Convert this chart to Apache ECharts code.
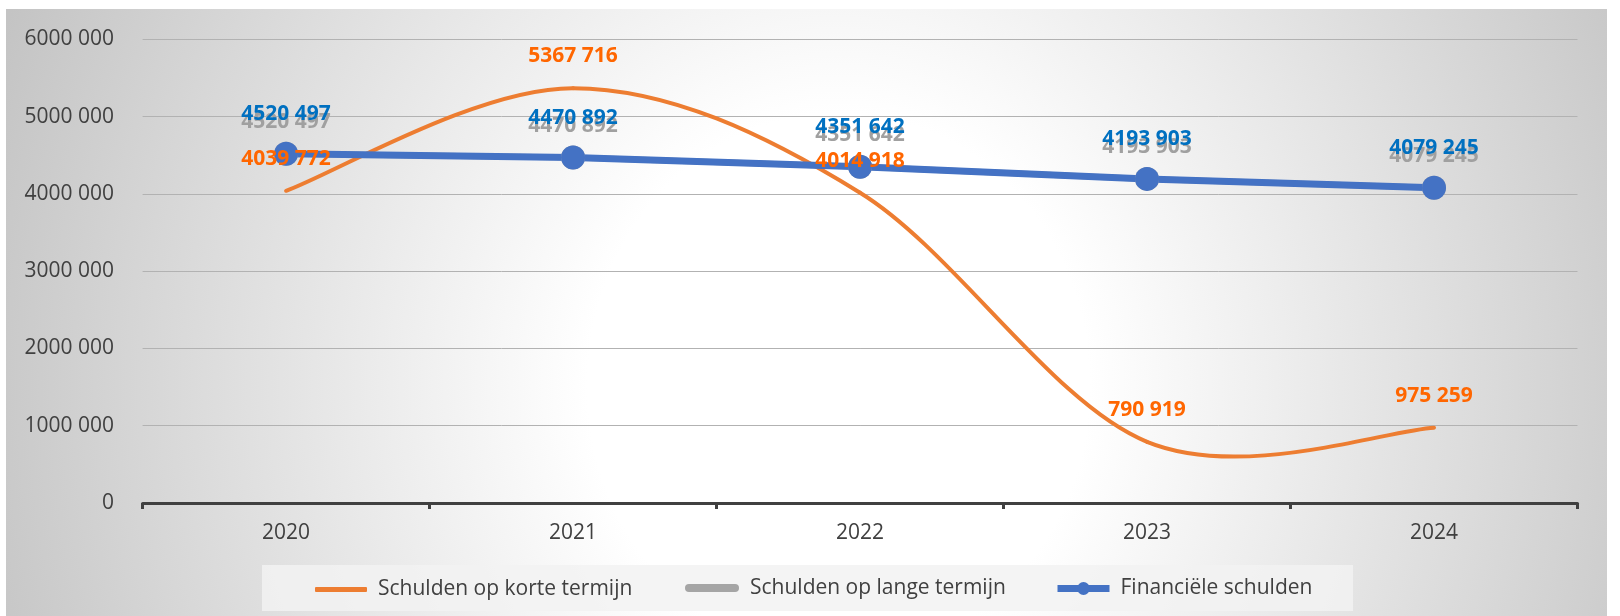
<!DOCTYPE html>
<html>
<head>
<meta charset="utf-8">
<script src="https://cdn.jsdelivr.net/npm/echarts@6/dist/echarts.min.js"></script>
<style>
  html, body { margin:0; padding:0; background:#ffffff; }
  #bg { position:absolute; left:6px; top:9px; width:1601px; height:607px;
        background: radial-gradient(ellipse 56% 160% at 52% 62%, #ffffff 0%, #ffffff 28%, #c4c4c4 100%); }
  #chart { position:absolute; left:0; top:0; width:1620px; height:616px; }
</style>
</head>
<body>
<div id="bg"></div>
<div id="chart"></div>
<script>
const years = ['2020', '2021', '2022', '2023', '2024'];
const kortTermijn = [4039772, 5367716, 4014918, 790919, 975259];
const langTermijn = [4520497, 4470892, 4351642, 4193903, 4079245];
const financieel = [4520497, 4470892, 4351642, 4193903, 4079245];
const seriesNames = ['Schulden op korte termijn', 'Schulden op lange termijn', 'Financiële schulden'];
const yTicks = { min: 0, max: 6000000, interval: 1000000 };

function fmt(v) {
  v = Math.round(v);
  if (v < 1000) return String(v);
  const hi = Math.floor(v / 1000);
  const lo = String(v % 1000).padStart(3, '0');
  return hi + ' ' + lo;
}

const FONT = '"Open Sans", "DejaVu Sans", sans-serif';
const chart = echarts.init(document.getElementById('chart'), null, { renderer: 'canvas' });

const legendText = { fontFamily: FONT, fontSize: 21, color: '#404040', padding: [0, 0, 0, 6] };

// Excel-style smoothed curve (Catmull-Rom Bezier), computed from axis coordinates
function renderSmooth(params, api) {
  const i = params.dataIndex;
  const n = kortTermijn.length;
  const pts = kortTermijn.map((v, j) => api.coord([j, v]));
  if (i >= n - 1) return { type: 'group', children: [] };
  const p0 = pts[Math.max(i - 1, 0)], p1 = pts[i], p2 = pts[i + 1], p3 = pts[Math.min(i + 2, n - 1)];
  const c1 = [p1[0] + (p2[0] - p0[0]) / 6, p1[1] + (p2[1] - p0[1]) / 6];
  const c2 = [p2[0] - (p3[0] - p1[0]) / 6, p2[1] - (p3[1] - p1[1]) / 6];
  return {
    type: 'bezierCurve',
    shape: { x1: p1[0], y1: p1[1], x2: p2[0], y2: p2[1], cpx1: c1[0], cpy1: c1[1], cpx2: c2[0], cpy2: c2[1] },
    style: { stroke: '#ED7D31', lineWidth: 4, fill: null, lineCap: 'round' }
  };
}
function renderKortLabel(params, api) {
  const p = api.coord([api.value(0), api.value(1)]);
  return {
    type: 'text', x: p[0], y: p[1] - 32,
    style: { text: fmt(api.value(1)), align: 'center', verticalAlign: 'middle',
             fontFamily: FONT, fontSize: 21, fontWeight: 'bold', fill: '#FF6600' }
  };
}

chart.setOption({
  animation: false,
  backgroundColor: 'transparent',
  graphic: [{
    type: 'rect', silent: true, z: 0,
    shape: { x: 262, y: 565, width: 1091, height: 46 },
    style: { fill: 'rgba(242,242,242,0.85)' }
  }],
  grid: { left: 142.6, right: 42.5, top: 39.3, bottom: 113, containLabel: false },
  legend: [
    { data: [{ name: seriesNames[0], icon: 'path://M1,0 L51,0 A1,1 0 0 1 52,1 L52,4 A1,1 0 0 1 51,5 L1,5 A1,1 0 0 1 0,4 L0,1 A1,1 0 0 1 1,0 Z' }],
      left: 315, top: 579, padding: 0,
      itemWidth: 52, itemHeight: 5, textStyle: legendText, itemStyle: { color: '#ED7D31' }, selectedMode: false },
    { data: [{ name: seriesNames[1], icon: 'path://M4,0 L50,0 A4,4 0 0 1 50,8 L4,8 A4,4 0 0 1 4,0 Z' }],
      left: 685, top: 577.5, padding: 0,
      itemWidth: 54, itemHeight: 8, textStyle: legendText, itemStyle: { color: '#A5A5A5' }, selectedMode: false },
    { data: [{ name: seriesNames[2] }], left: 1054, top: 578, padding: 0,
      itemWidth: 52, itemHeight: 16, textStyle: legendText, selectedMode: false,
      lineStyle: { width: 7, color: '#4472C4' }, itemStyle: { color: '#4472C4' } }
  ],
  xAxis: {
    type: 'category',
    data: years,
    boundaryGap: true,
    axisLine: { lineStyle: { color: '#404040', width: 3 } },
    axisTick: { show: true, length: 6, lineStyle: { color: '#404040', width: 3 } },
    axisLabel: { fontFamily: FONT, fontSize: 21, color: '#404040', margin: 20 }
  },
  yAxis: {
    type: 'value',
    min: yTicks.min, max: yTicks.max, interval: yTicks.interval,
    axisLine: { show: false },
    axisTick: { show: false },
    axisLabel: { fontFamily: FONT, fontSize: 21, color: '#404040', margin: 28.6, formatter: fmt },
    splitLine: { lineStyle: { color: '#b2b2b2', width: 1 } }
  },
  series: [
    {
      name: seriesNames[0], type: 'custom',
      data: kortTermijn.map((v, i) => [i, v]),
      encode: { x: 0, y: 1 },
      itemStyle: { color: '#ED7D31' },
      renderItem: renderSmooth,
      z: 2
    },
    {
      name: seriesNames[1], type: 'line', data: langTermijn,
      symbol: 'circle', symbolSize: 24,
      itemStyle: { color: '#A5A5A5' },
      lineStyle: { color: '#A5A5A5', width: 6 },
      label: { show: true, position: 'top', distance: 9, formatter: p => fmt(p.value),
               fontFamily: FONT, fontSize: 21, fontWeight: 'bold', color: '#A0A0A0' },
      z: 2
    },
    {
      name: seriesNames[2], type: 'line', data: financieel,
      symbol: 'circle', symbolSize: 24,
      itemStyle: { color: '#4472C4' },
      lineStyle: { color: '#4472C4', width: 7 },
      label: { show: true, position: 'top', distance: 17, formatter: p => fmt(p.value),
               fontFamily: FONT, fontSize: 21, fontWeight: 'bold', color: '#0070C0' },
      z: 2
    },
    {
      name: seriesNames[0], type: 'custom',
      data: kortTermijn.map((v, i) => [i, v]),
      encode: { x: 0, y: 1 },
      itemStyle: { color: '#ED7D31' },
      renderItem: renderKortLabel,
      z: 5
    }
  ]
});
</script>
</body>
</html>
